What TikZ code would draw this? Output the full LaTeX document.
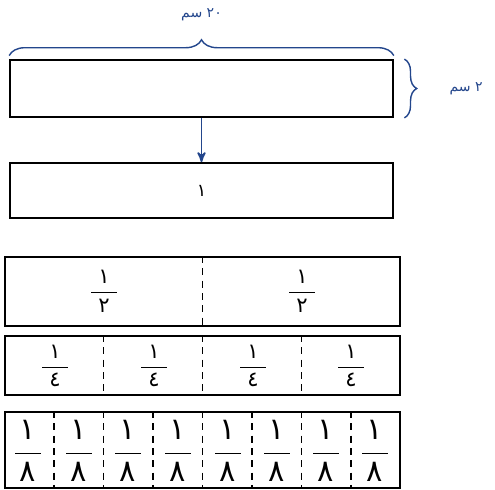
\documentclass[tikz,border=0pt]{standalone}
\usepackage{fontspec}
\newfontfamily\arabicfont[Script=Arabic]{DejaVu Sans}
\TeXXeTstate=1
\usetikzlibrary{arrows,calc,decorations.pathreplacing}
\definecolor{inkblue}{RGB}{35,70,140}
\newcommand\kasr[1]{$\displaystyle\frac{\hbox to 5.2mm{\hfil\arabicfont ١\hfil}}{\hbox{\arabicfont #1}}$}

\begin{document}
\begin{tikzpicture}[x=0.02cm,y=-0.02cm,>=stealth',
    strip/.style={draw,line width=1pt,minimum width=7.9cm,inner sep=0pt},
    cut/.style={dashed,line width=0.9pt,dash pattern=on 4pt off 3pt},
    measure/.style={inkblue,font=\arabicfont\footnotesize}]

    \useasboundingbox (0,0) rectangle (495,490);

    \node[strip,minimum width=7.66cm,minimum height=1.14cm] (whole) at (201.5,88.5) {};
    \node[strip,minimum width=7.66cm,minimum height=1.1cm] (one) at (201.5,190.5) {\arabicfont ١};
    \node[strip,minimum height=1.38cm] (halves) at (202.5,291.5) {};
    \node[strip,minimum height=1.18cm] (quarters) at (202.5,365.5) {};
    \node[strip,minimum height=1.52cm] (eighths) at (202.5,450) {};

    \draw[inkblue,thick,decorate,decoration={brace,amplitude=9pt}]
        ([yshift=2pt]whole.north west) -- ([yshift=2pt]whole.north east)
        node[midway,above=16pt,measure] (len) {\beginR ٢٠ سم\endR};
    \draw[inkblue,thick,decorate,decoration={brace,amplitude=7pt}]
        ([xshift=6pt]whole.north east) -- ([xshift=6pt]whole.south east)
        node[midway,right=22pt,measure] (wid) {\beginR ٢ سم\endR};

    \draw[->,inkblue,line width=1pt] (whole.south) -- (one.north);

    \draw[cut] (halves.north) -- (halves.south);
    \foreach \i in {1,2,3}
        \draw[cut] ($(quarters.north west)!\i/4!(quarters.north east)$) -- ($(quarters.south west)!\i/4!(quarters.south east)$);
    \foreach \i in {1,...,7}
        \draw[cut] ($(eighths.north west)!\i/8!(eighths.north east)$) -- ($(eighths.south west)!\i/8!(eighths.south east)$);

    \foreach \x in {104,302}
        \node[font=\large] (h\x) at (\x,291) {\kasr{٢}};
    \foreach \x in {55,154,253,351}
        \node[font=\large] (q\x) at (\x,366) {\kasr{٤}};
    \foreach \x in {28,79,128,178,228,277,326,375}
        \node[font=\LARGE] (e\x) at (\x,451) {\kasr{٨}};

\end{tikzpicture}
\end{document}
